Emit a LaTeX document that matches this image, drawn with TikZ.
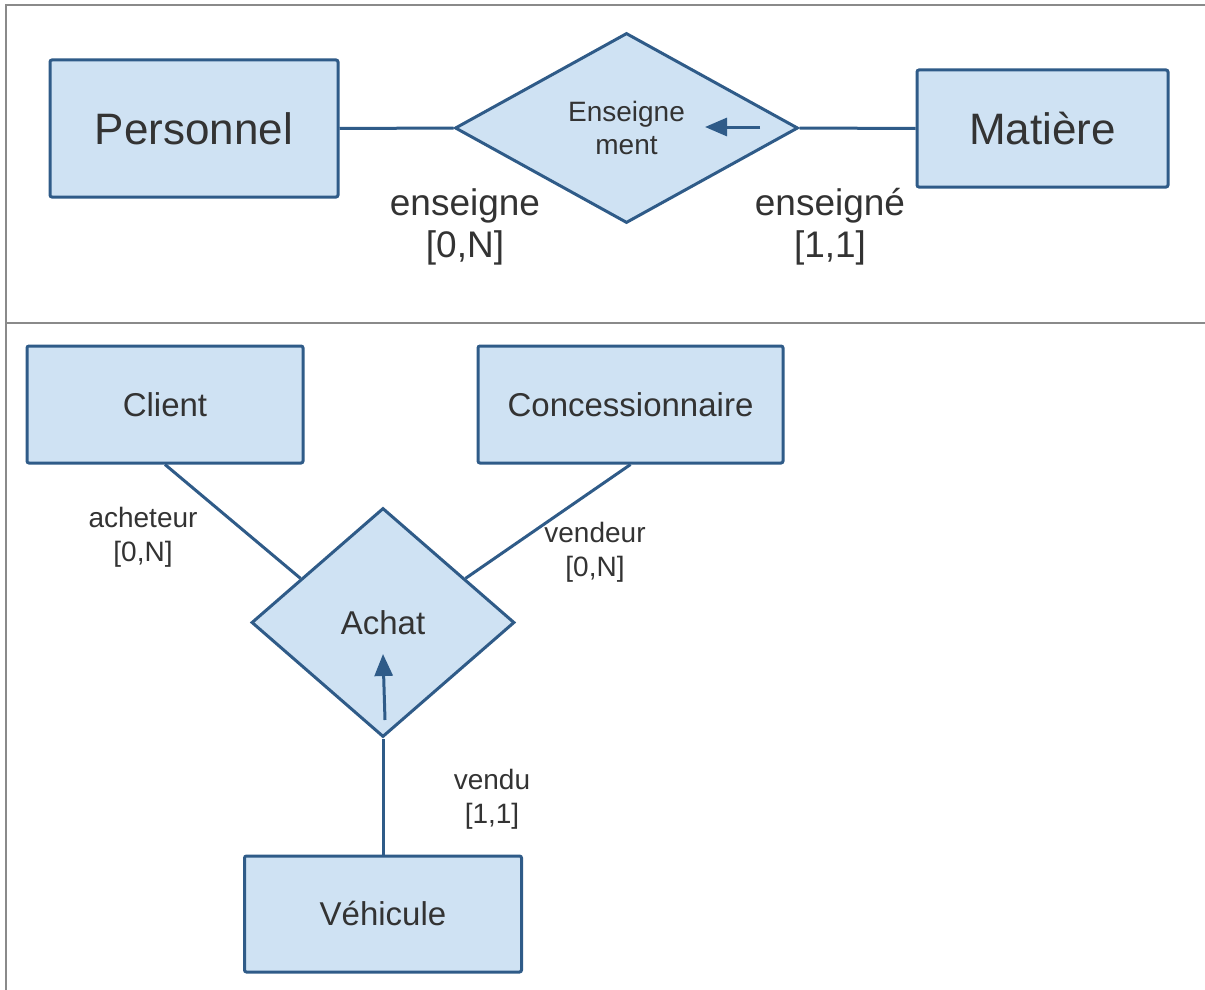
\documentclass[tikz,border=0pt]{standalone}
\usepackage{fontspec}
\setmainfont{Liberation Sans}
\usetikzlibrary{shapes.geometric,arrows.meta,calc}
\definecolor{fillb}{HTML}{CFE2F3}
\definecolor{lineb}{HTML}{2F5B88}
\definecolor{txt}{HTML}{333333}
\definecolor{framec}{HTML}{8A8A8A}
\begin{document}
\begin{tikzpicture}[x=1pt,y=-1pt,
  entity/.style={draw=lineb,fill=fillb,line width=3pt,rounded corners=2pt,inner sep=0pt,text=txt},
  relation/.style={draw=lineb,fill=fillb,line width=3pt,diamond,inner sep=0pt,text=txt,align=center},
  link/.style={draw=lineb,line width=3pt},
  role/.style={text=txt,align=center,inner sep=0pt},
  marker/.style={draw=lineb,line width=3pt,-{Triangle[length=22pt,width=18pt]}},
  frameline/.style={draw=framec,line width=2pt},
  bigfont/.style={font=\fontsize{44}{50}\selectfont},
  midfont/.style={font=\fontsize{33}{40}\selectfont},
  rolefontA/.style={font=\fontsize{37}{42}\selectfont},
  rolefontB/.style={font=\fontsize{28}{34}\selectfont}]
\useasboundingbox (0,0) rectangle (1205,990);
\fill[white] (0,0) rectangle (1205,990);
% frame
\coordinate (fa) at (6,990);
\coordinate (fb) at (6,5);
\coordinate (fc) at (1205,5);
\coordinate (fd) at (6,323);
\coordinate (fe) at (1205,323);
\draw[frameline] (fa) -- (fb) -- (fc);
\draw[frameline] (fd) -- (fe);
% top diagram
\node[entity,bigfont,minimum width=288pt,minimum height=137pt] (personnel) at (194,128.5) {Personnel};
\node[entity,bigfont,minimum width=251pt,minimum height=117pt] (matiere) at (1042.5,128.5) {Matière};
\node[relation,minimum width=343pt,minimum height=190pt,font=\fontsize{28}{33}\selectfont] (ens) at (626.5,128) {Enseigne\\ment};
\draw[link] (personnel.east) -- (ens.west);
\draw[link] (ens.east) -- (matiere.west);
\coordinate (ensA) at (760,127);
\coordinate (ensB) at (705,127);
\draw[marker] (ensA) -- (ensB);
\node[role,rolefontA] (r1) at (465,227) {enseigne\\{}[0,N]};
\node[role,rolefontA] (r2) at (830,227) {enseigné\\{}[1,1]};
% bottom diagram
\node[entity,midfont,minimum width=276pt,minimum height=117pt] (client) at (165,404.5) {Client};
\node[entity,midfont,minimum width=305pt,minimum height=117pt] (conc) at (630.5,404.5) {Concessionnaire};
\node[relation,midfont,minimum width=263pt,minimum height=229pt] (achat) at (383,622.5) {Achat};
\node[entity,midfont,minimum width=277pt,minimum height=116pt] (vehicule) at (383,914) {Véhicule};
\draw[link] (client.south) -- ($(achat.north)!0.62!(achat.west)$);
\draw[link] (conc.south) -- ($(achat.north)!0.62!(achat.east)$);
\draw[link] (vehicule.north) -- (achat.south);
\coordinate (achA) at (385,720);
\coordinate (achB) at (383,654);
\draw[marker] (achA) -- (achB);
\node[role,rolefontB] (r3) at (143,537) {acheteur\\{}[0,N]};
\node[role,rolefontB] (r4) at (595,552) {vendeur\\{}[0,N]};
\node[role,rolefontB] (r5) at (492,799) {vendu\\{}[1,1]};
\end{tikzpicture}
\end{document}
